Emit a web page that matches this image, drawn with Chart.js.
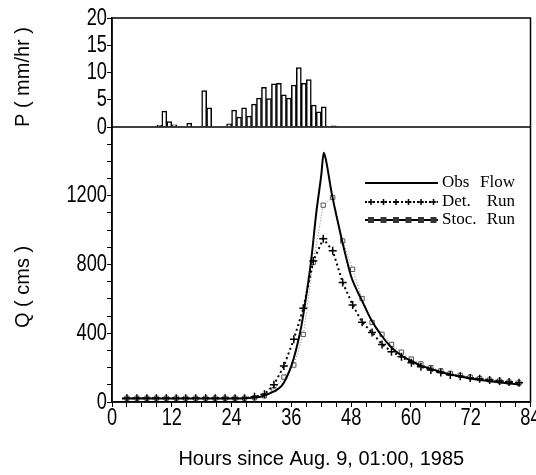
<!DOCTYPE html>
<html>
<head>
<meta charset="utf-8">
<script src="https://cdn.jsdelivr.net/npm/chart.js@4/dist/chart.umd.min.js"></script>
<style>
  html, body { margin: 0; padding: 0; background: #fff; }
  canvas { display: block; }
</style>
</head>
<body>
<canvas id="flowChart" width="536" height="475"></canvas>
<script>
// rainfall, hourly bars (bar centre, hours) and intensity in mm/hr
const rainHours = [9.5, 10.5, 11.5, 12.5, 15.5, 18.5, 19.5, 23.5, 24.5, 25.5, 26.5, 27.5, 28.5, 29.5, 30.5,
  31.5, 32.5, 33.5, 34.5, 35.5, 36.5, 37.5, 38.5, 39.5, 40.5, 41.5, 42.5, 44.5];
const rainRate = [0.3, 2.9, 1.0, 0.4, 0.7, 6.7, 3.5, 0.6, 3.1, 1.8, 3.5, 2.0, 4.2, 5.3, 7.3,
  5.2, 7.9, 8.0, 5.9, 5.3, 7.7, 10.9, 8.0, 8.7, 4.0, 2.8, 3.7, 0.2];

// observed flow (cms)
const obsHours = [2, 6, 10, 14, 18, 22, 26, 28, 30, 32, 34, 35, 36, 37, 38, 39, 40, 41, 42, 42.5,
  43, 44, 45, 46, 47, 48, 49, 50, 52, 54, 56, 58, 60, 62, 64, 66, 68, 70, 72, 74, 76, 78, 80, 82];
const obsFlow = [20, 20, 20, 20, 20, 20, 20, 24, 32, 54, 92, 140, 210, 310, 440, 620, 830, 1100, 1320, 1450,
  1400, 1230, 1090, 960, 840, 730, 660, 600, 480, 390, 320, 272, 240, 212, 192, 175, 160, 148, 137, 128, 120, 113, 107, 101];

// model runs, sampled about every 2 hours
const simHours = [3, 5, 7, 8.9, 10.9, 12.9, 14.8, 16.8, 18.8, 20.7, 22.7, 24.7, 26.6,
  28.6, 30.6, 32.5, 34.5, 36.5, 38.4, 40.4, 42.4, 44.3, 46.3, 48.3, 50.2, 52.2, 54.2, 56.1, 58.1,
  60.1, 62.0, 64.0, 66.0, 67.9, 69.9, 71.9, 73.8, 75.8, 77.8, 79.7, 81.7];
const detFlow = [22, 22, 22, 22, 22, 22, 22, 22, 22, 22, 22, 22, 22,
  30, 45, 100, 210, 365, 545, 820, 950, 880, 695, 565, 464, 405, 335, 293, 263,
  228, 205, 186, 171, 157, 150, 140, 135, 128, 122, 116, 112];
const stocFlow = [22, 22, 22, 22, 22, 22, 22, 22, 22, 22, 22, 22, 22,
  25, 35, 72, 145, 215, 393, 813, 1145, 1190, 937, 772, 602, 463, 394, 335, 290,
  250, 222, 200, 182, 167, 155, 145, 136, 128, 122, 116, 111];

// tick labels
const xTickLabels = [0, 12, 24, 36, 48, 60, 72, 84];
const qTickLabels = [0, 400, 800, 1200];
const pTickLabels = [0, 5, 10, 15, 20];
const legendItems = [["Obs", "Flow"], ["Det.", "Run"], ["Stoc.", "Run"]];

const titleFont = "20px 'Liberation Sans', Arial, sans-serif";
const tickFont = "24px 'Liberation Sans', Arial, sans-serif";

const pts = (xs, ys) => xs.map((x, i) => ({ x: x, y: ys[i] }));

// narrow tick numbers, frame, axis titles and the legend box
const decor = {
  id: "decor",
  afterDraw(chart) {
    const ctx = chart.ctx;
    const a = chart.chartArea;
    const sx = chart.scales.x, sq = chart.scales.yQ, sp = chart.scales.yP;
    ctx.save();
    ctx.strokeStyle = "#000";
    ctx.lineWidth = 1.5;
    ctx.strokeRect(a.left, a.top, a.right - a.left, a.bottom - a.top);
    ctx.beginPath();
    ctx.moveTo(a.left, sp.bottom);
    ctx.lineTo(a.right, sp.bottom);
    ctx.stroke();

    ctx.fillStyle = "#000";
    ctx.font = tickFont;
    ctx.textBaseline = "middle";
    const narrow = (text, x, y, align) => {
      ctx.save();
      ctx.translate(x, y);
      ctx.scale(0.76, 1);
      ctx.textAlign = align;
      ctx.fillText(String(text), 0, 0);
      ctx.restore();
    };
    xTickLabels.forEach((v) => narrow(v, sx.getPixelForValue(v), a.bottom + 16, "center"));
    qTickLabels.forEach((v) => narrow(v, a.left - 5, sq.getPixelForValue(v), "right"));
    pTickLabels.forEach((v) => narrow(v, a.left - 5, sp.getPixelForValue(v), "right"));

    ctx.font = titleFont;
    ctx.textAlign = "center";
    [["P ( mm/hr )", 77], ["Q ( cms )", 287]].forEach(([t, y]) => {
      ctx.save();
      ctx.translate(23, y);
      ctx.rotate(-Math.PI / 2);
      ctx.fillText(t, 0, 0);
      ctx.restore();
    });

    // legend
    const lx0 = 365, lx1 = 438;
    const rows = [183, 202, 220];
    ctx.lineWidth = 2;
    ctx.beginPath();
    ctx.moveTo(lx0, rows[0]);
    ctx.lineTo(lx1, rows[0]);
    ctx.stroke();

    ctx.setLineDash([2, 2]);
    ctx.beginPath();
    ctx.moveTo(lx0, rows[1]);
    ctx.lineTo(lx1, rows[1]);
    ctx.stroke();
    ctx.setLineDash([]);
    ctx.lineWidth = 1.5;
    for (let i = 0; i < 6; i++) {
      const cx = lx0 + 6 + i * 12.5;
      ctx.beginPath();
      ctx.moveTo(cx - 3, rows[1]);
      ctx.lineTo(cx + 3, rows[1]);
      ctx.moveTo(cx, rows[1] - 3);
      ctx.lineTo(cx, rows[1] + 3);
      ctx.stroke();
    }

    ctx.lineWidth = 2;
    ctx.beginPath();
    ctx.moveTo(lx0, rows[2]);
    ctx.lineTo(lx1, rows[2]);
    ctx.stroke();
    ctx.fillStyle = "#333";
    for (let i = 0; i < 6; i++) {
      const cx = lx0 + 6 + i * 12.5;
      ctx.fillRect(cx - 3, rows[2] - 3, 6, 6);
    }

    ctx.fillStyle = "#000";
    ctx.font = "17px 'Liberation Serif', 'Times New Roman', serif";
    legendItems.forEach(([w1, w2], i) => {
      ctx.textAlign = "left";
      ctx.fillText(w1, 442, rows[i]);
      ctx.textAlign = "right";
      ctx.fillText(w2, 515, rows[i]);
    });
    ctx.restore();
  }
};

const yAxisWidth = (s) => { s.width = 112; s.paddingTop = 0; s.paddingBottom = 0; };
const tickMarks = { drawOnChartArea: false, offset: false, color: "#000", tickLength: 5, lineWidth: 1 };

new Chart(document.getElementById("flowChart").getContext("2d"), {
  type: "line",
  data: {
    datasets: [
      {
        type: "bar",
        label: "P",
        data: pts(rainHours, rainRate),
        yAxisID: "yP",
        backgroundColor: "#fff",
        borderColor: "#000",
        borderWidth: 1.5,
        barPercentage: 1,
        categoryPercentage: 1
      },
      {
        label: "Obs Flow",
        data: pts(obsHours, obsFlow),
        yAxisID: "yQ",
        borderColor: "#000",
        borderWidth: 2,
        pointRadius: 0,
        cubicInterpolationMode: "monotone"
      },
      {
        label: "Det. Run",
        data: pts(simHours, detFlow),
        yAxisID: "yQ",
        borderColor: "#000",
        borderWidth: 2,
        borderDash: [2, 3],
        pointStyle: "cross",
        pointRadius: 4,
        pointBorderWidth: 1.5,
        pointBorderColor: "#000"
      },
      {
        label: "Stoc. Run",
        data: pts(simHours, stocFlow),
        yAxisID: "yQ",
        borderColor: "#777",
        borderWidth: 1,
        borderDash: [1, 2],
        pointStyle: "rect",
        pointRadius: 3,
        pointBorderWidth: 1,
        pointBorderColor: "#555",
        pointBackgroundColor: "#fff"
      }
    ]
  },
  options: {
    responsive: false,
    animation: false,
    devicePixelRatio: 1,
    layout: { padding: { top: 18, right: 3, left: 0, bottom: 0 } },
    plugins: {
      legend: { display: false },
      tooltip: { enabled: false }
    },
    scales: {
      x: {
        type: "linear",
        offset: false,
        min: 0,
        max: 84,
        grid: tickMarks,
        border: { color: "#000", width: 1.5 },
        ticks: { display: false, stepSize: 3, autoSkip: false },
        afterFit: (s) => { s.height = 73; s.paddingLeft = 0; s.paddingRight = 0; },
        title: {
          display: true,
          text: "Hours since Aug. 9, 01:00, 1985",
          color: "#000",
          font: { family: "'Liberation Sans', Arial, sans-serif", size: 20 },
          padding: { top: 0, bottom: 4 }
        }
      },
      yQ: {
        type: "linear",
        position: "left",
        stack: "v",
        stackWeight: 275,
        min: 0,
        max: 1600,
        grid: tickMarks,
        border: { color: "#000", width: 1.5 },
        ticks: { display: false, stepSize: 100, autoSkip: false },
        afterFit: yAxisWidth
      },
      yP: {
        type: "linear",
        position: "left",
        stack: "v",
        stackWeight: 109,
        min: 0,
        max: 20,
        grid: tickMarks,
        border: { color: "#000", width: 1.5 },
        ticks: { display: false, stepSize: 5, autoSkip: false },
        afterFit: yAxisWidth
      }
    }
  },
  plugins: [decor]
});
</script>
</body>
</html>
